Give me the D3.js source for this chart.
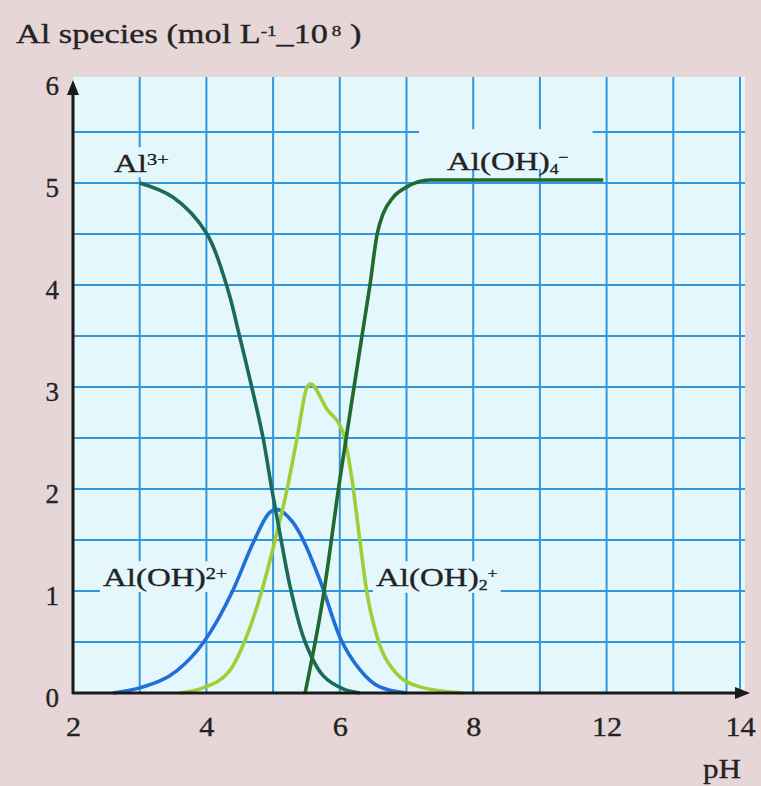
<!DOCTYPE html>
<html>
<head>
<meta charset="utf-8">
<script src="https://cdn.jsdelivr.net/npm/d3@7"></script>
<style>
  body { margin: 0; background: #e6d6d8; }
  svg text { font-family: "Liberation Serif", "Times New Roman", serif; fill: #232323; stroke: #232323; stroke-width: 0.35px; }
</style>
</head>
<body>
<script>
// Data (x in grid pH units, y in mol L-1 x 10^8)
var al3Ph  = [3.0, 3.5, 4.0, 4.31, 4.5, 4.68, 4.85, 4.98, 5.12, 5.27, 5.48, 5.75, 6.05, 6.3];
var al3Val = [5.0, 4.86, 4.51, 3.98, 3.49, 3.0, 2.5, 2.0, 1.5, 1.0, 0.5, 0.17, 0.04, 0];

var aloh2Ph  = [2.6, 3.0, 3.56, 3.95, 4.4, 4.7, 4.95, 5.05, 5.3, 5.7, 6.0, 6.3, 6.6, 7.0];
var aloh2Val = [0, 0.05, 0.22, 0.49, 1.01, 1.47, 1.77, 1.80, 1.67, 1.11, 0.55, 0.23, 0.06, 0];

var aloh2pPh  = [3.6, 3.95, 4.35, 4.6, 4.83, 5.03, 5.21, 5.36, 5.51, 5.56, 5.8, 6.05, 6.17, 6.3, 6.4, 6.56, 6.8, 7.2, 7.85];
var aloh2pVal = [0, 0.05, 0.22, 0.55, 1.0, 1.5, 2.0, 2.5, 3.0, 3.03, 2.79, 2.55, 2.15, 1.5, 1.01, 0.55, 0.23, 0.06, 0];

var aloh4Ph  = [5.48, 5.75, 6.0, 6.23, 6.33, 6.45, 6.56, 6.65, 6.8, 7.0, 7.35, 9.95];
var aloh4Val = [0, 0.94, 2.09, 3.07, 3.49, 3.99, 4.5, 4.7, 4.86, 4.96, 5.03, 5.03];

var xTickVals   = [2, 4, 6, 8, 10, 12];
var xTickLabels = ["2", "4", "6", "8", "12", "14"];
var yTickVals   = [0, 1, 2, 3, 4, 5, 6];

// Width and height
var w = 761;
var h = 786;
var plotBg = "#e4f7fc";
var stretch = 1.27;   // the printed type is wide

var x = d3.scaleLinear().domain([2, 12]).range([73, 740]);
var y = d3.scaleLinear().domain([0, 6]).range([693, 81]);

var svg = d3.select("body")
            .append("svg")
            .attr("width", w)
            .attr("height", h);

// plot background
svg.append("rect")
   .attr("x", 73).attr("y", 77)
   .attr("width", 745 - 73).attr("height", 693 - 77)
   .attr("fill", plotBg);

// grid
var grid = svg.append("g").attr("stroke", "#3196dc").attr("stroke-width", 2);
grid.selectAll("line.v")
    .data(d3.range(3, 13))
    .enter().append("line")
    .attr("x1", function(d){ return x(d); }).attr("x2", function(d){ return x(d); })
    .attr("y1", 77).attr("y2", 693);
grid.selectAll("line.h")
    .data(d3.range(0.5, 6, 0.5))
    .enter().append("line")
    .attr("x1", 73).attr("x2", 745)
    .attr("y1", function(d){ return y(d); }).attr("y2", function(d){ return y(d); });

var labelLayer = svg.append("g");
var curveLayer = svg.append("g");

// curves
function lineWith(curve) {
  return d3.line()
           .x(function(d){ return x(d[0]); })
           .y(function(d){ return y(d[1]); })
           .curve(curve);
}

var series = [
  { ph: aloh2Ph,  val: aloh2Val,  color: "#1f6fd6", curve: d3.curveMonotoneX },
  { ph: aloh2pPh, val: aloh2pVal, color: "#9fce35", curve: d3.curveMonotoneX },
  { ph: al3Ph,    val: al3Val,    color: "#1b6b58", curve: d3.curveCatmullRom.alpha(0.5) },
  { ph: aloh4Ph,  val: aloh4Val,  color: "#1f6a2c", curve: d3.curveMonotoneX }
];

curveLayer.selectAll("path")
   .data(series)
   .enter()
   .append("path")
   .attr("d", function(s){ return lineWith(s.curve)(d3.zip(s.ph, s.val)); })
   .attr("fill", "none")
   .attr("stroke", function(s){ return s.color; })
   .attr("stroke-width", 3.6)
   .attr("stroke-linejoin", "round");

// species labels (box behind hides the grid)
function speciesLabel(px, py, parts, padL, padR, padT, padB) {
  var g = labelLayer.append("g")
                    .attr("transform", "translate(" + px + "," + py + ") scale(" + stretch + ",1)");
  var rect = g.append("rect").attr("fill", plotBg);
  var t = g.append("text").attr("x", 0).attr("y", 0).style("font-size", "26px");
  parts.forEach(function(p){
    var ts = t.append("tspan").text(p.t);
    if (p.sup) ts.attr("baseline-shift", p.shift || "45%").style("font-size", (p.size || 16) + "px");
    if (p.sub) ts.attr("baseline-shift", "-30%").style("font-size", "14px");
    if (p.dx) ts.attr("dx", p.dx);
  });
  var b = t.node().getBBox();
  rect.attr("x", b.x - padL / stretch).attr("y", b.y - padT)
      .attr("width", b.width + (padL + padR) / stretch)
      .attr("height", b.height + padT + padB);
}

speciesLabel(114, 172, [{t: "Al"}, {t: "3+", sup: true}], 3, 3, 2, 0);
speciesLabel(447, 170, [{t: "Al(OH)"}, {t: "4", sub: true}, {t: "\u2212", sup: true, size: 14, shift: "55%"}], 28, 24, 18, -8);
speciesLabel(103, 586, [{t: "Al(OH)"}, {t: "2+", sup: true}], 3, 3, 2, 0);
speciesLabel(376, 586, [{t: "Al(OH)"}, {t: "2", sub: true}, {t: "+", sup: true, size: 14, shift: "55%"}], 3, 3, 2, 0);

// axis tick labels
var xAxis = d3.axisBottom(x)
              .tickValues(xTickVals)
              .tickSize(0)
              .tickPadding(24)
              .tickFormat(function(d, i){ return xTickLabels[i]; });
var gx = svg.append("g").attr("transform", "translate(0,693)").call(xAxis);
gx.select(".domain").remove();
gx.selectAll("text").style("font-size", "27px").attr("fill", "#232323")
  .style("font-family", "'Liberation Serif', serif")
  .attr("transform", "scale(1.12,1)");

var yAxis = d3.axisLeft(y)
              .tickValues(yTickVals)
              .tickSize(0)
              .tickPadding(14)
              .tickFormat(d3.format("d"));
var gy = svg.append("g").attr("transform", "translate(73,5)").call(yAxis);
gy.select(".domain").remove();
gy.selectAll("text").style("font-size", "27px").attr("fill", "#232323")
  .style("font-family", "'Liberation Serif', serif");

// axis lines with arrows
var axisG = svg.append("g").attr("stroke", "#1a1a1a").attr("stroke-width", 3);
axisG.append("line").attr("x1", 73).attr("y1", 694).attr("x2", 73).attr("y2", 90);
axisG.append("line").attr("x1", 72).attr("y1", 693).attr("x2", 738).attr("y2", 693);
svg.append("path").attr("d", "M73,80 L67,95 L79,95 Z").attr("fill", "#1a1a1a");
svg.append("path").attr("d", "M750,693 L735,687 L735,699 Z").attr("fill", "#1a1a1a");

// titles
var title = svg.append("text")
               .attr("transform", "translate(16,43) scale(" + stretch + ",1)")
               .style("font-size", "27px");
title.append("tspan").text("Al species (mol L");
title.append("tspan").text("-1").attr("baseline-shift", "45%").style("font-size", "15px");
title.append("tspan").text("_10");
title.append("tspan").text("8").attr("baseline-shift", "45%").style("font-size", "15px").attr("dx", 3);
title.append("tspan").text(" )");

svg.append("text")
   .attr("transform", "translate(703,778) scale(1.15,1)")
   .style("font-size", "27px").text("pH");
</script>
</body>
</html>
